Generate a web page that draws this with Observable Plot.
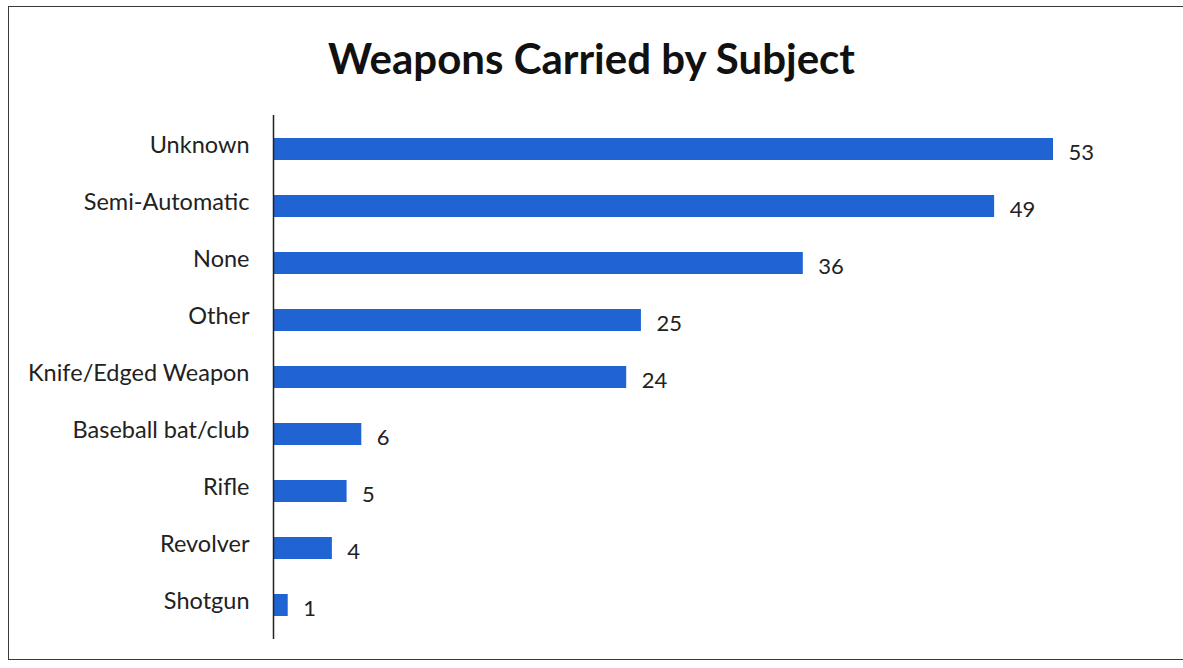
<!DOCTYPE html>
<html>
<head>
<meta charset="utf-8">
<script src="https://cdn.jsdelivr.net/npm/d3@7"></script>
<script src="https://cdn.jsdelivr.net/npm/@observablehq/plot@0.6"></script>
<style>
  html, body { margin: 0; padding: 0; background: #fff; }
  #wrap { position: relative; width: 1183px; height: 668px; overflow: hidden; }
  #frame { position: absolute; left: 8px; top: 6px; width: 1190px; height: 654px; border: 1.5px solid #3a3a3a; box-sizing: border-box; }
  #title { position: absolute; left: 0; width: 1183px; top: 33px; text-align: center; font-family: Lato, "Open Sans", sans-serif; font-weight: bold; font-size: 42px; color: #111; }
  #chart { position: absolute; left: 0; top: 0; }
</style>
</head>
<body>
<div id="wrap">
  <div id="frame"></div>
  <div id="title">Weapons Carried by Subject</div>
  <div id="chart"></div>
</div>
<script>
const categories = ["Unknown", "Semi-Automatic", "None", "Other", "Knife/Edged Weapon", "Baseball bat/club", "Rifle", "Revolver", "Shotgun"];
const counts = [53, 49, 36, 25, 24, 6, 5, 4, 1];

const data = categories.map((c, i) => ({category: c, count: counts[i]}));

const chart = Plot.plot({
  width: 1183,
  height: 668,
  marginLeft: 273,
  marginRight: 130,
  marginTop: 115,
  marginBottom: 29,
  style: {fontFamily: "Lato, 'Open Sans', sans-serif", fontSize: "23.5px", color: "#222", background: "transparent"},
  x: {domain: [0, 53], axis: null},
  y: {domain: categories, paddingInner: 0.616, paddingOuter: 0.384, label: null, tickSize: 0, tickPadding: 24},
  marks: [
    Plot.axisY({tickSize: 0, tickPadding: 24, dy: -4, fontSize: 23.5, fill: "#222"}),
    Plot.barX(data, {x: "count", y: "category", fill: "#2064d3"}),
    Plot.ruleX([0], {stroke: "#222", strokeWidth: 1.5}),
    Plot.text(data, {x: "count", y: "category", text: d => String(d.count), textAnchor: "start", dx: 15, dy: 3, fontSize: 22, fill: "#222"})
  ]
});
document.getElementById("chart").appendChild(chart);
</script>
</body>
</html>
